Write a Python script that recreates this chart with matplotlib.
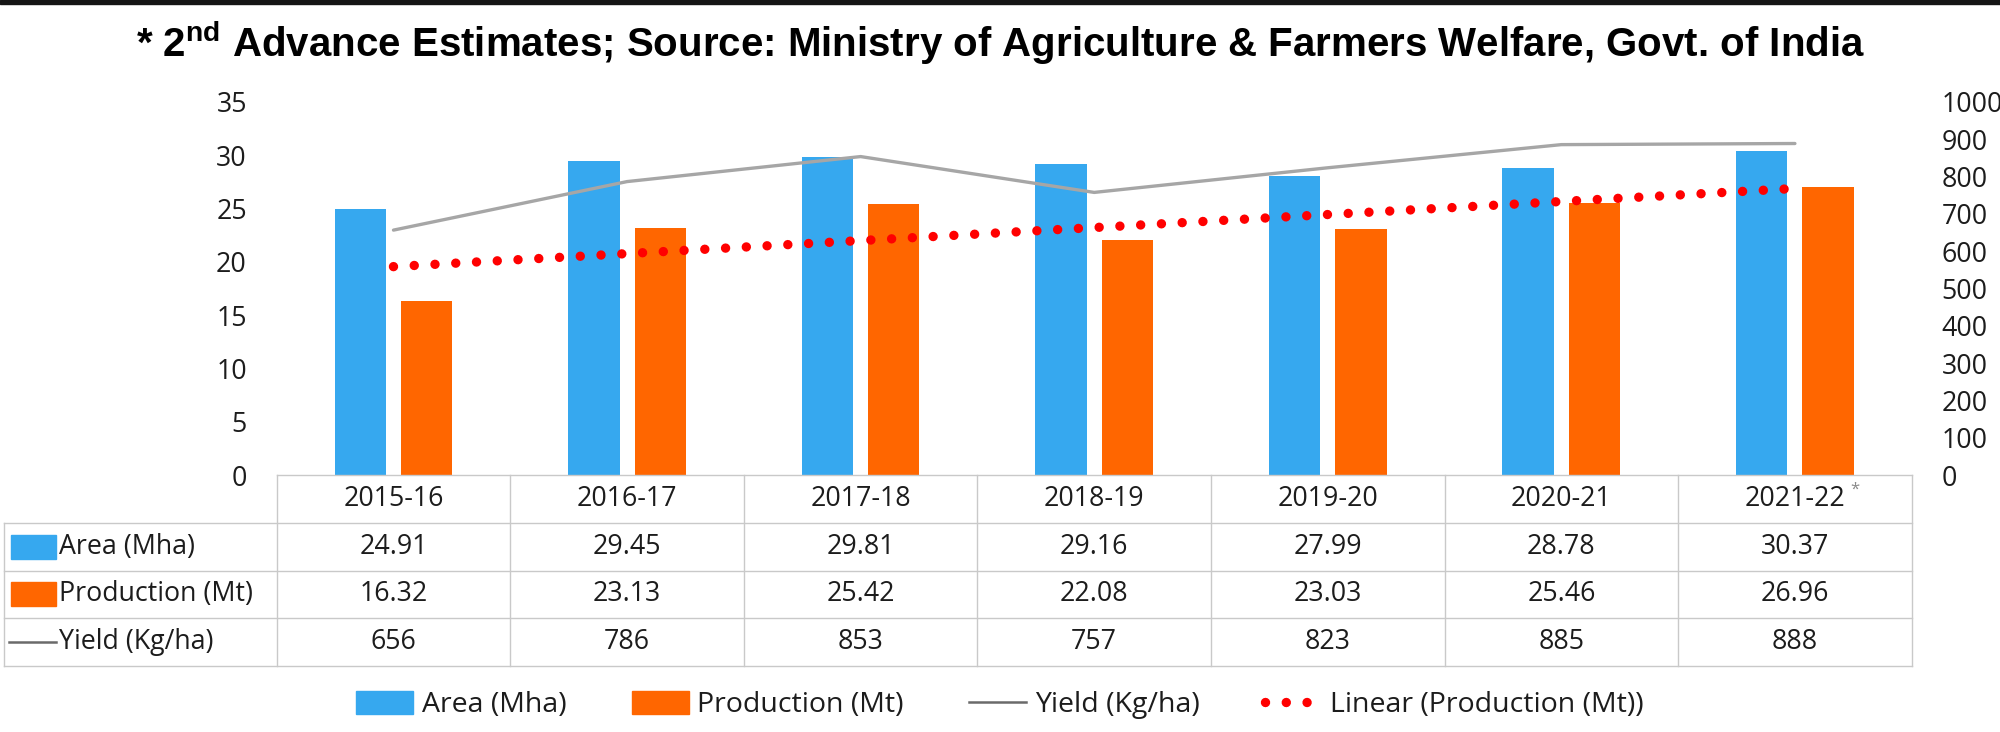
import numpy as np
import matplotlib
matplotlib.use('Agg')
import matplotlib.pyplot as plt
from matplotlib import font_manager as fm
from matplotlib.patches import Rectangle
from matplotlib.lines import Line2D

# ---------------- data ----------------
years = ['2015-16', '2016-17', '2017-18', '2018-19', '2019-20', '2020-21', '2021-22']
area = [24.91, 29.45, 29.81, 29.16, 27.99, 28.78, 30.37]
production = [16.32, 23.13, 25.42, 22.08, 23.03, 25.46, 26.96]
yield_kg = [656, 786, 853, 757, 823, 885, 888]
row_labels = ['Area (Mha)', 'Production (Mt)', 'Yield (Kg/ha)']
left_ticks = [0, 5, 10, 15, 20, 25, 30, 35]
right_ticks = [0, 100, 200, 300, 400, 500, 600, 700, 800, 900, 1000]
title = r'* 2$^{\mathrm{nd}}$ Advance Estimates; Source: Ministry of Agriculture & Farmers Welfare, Govt. of India'
legend_labels = ['Area (Mha)', 'Production (Mt)', 'Yield (Kg/ha)', 'Linear (Production (Mt))']

# ---------------- style ----------------
C_AREA = '#36a8ef'
C_PROD = '#ff6600'
C_YIELD = '#a6a6a6'
C_YIELD_KEY = '#6a6a6a'
C_TREND = '#ff0000'
C_GRID = '#c9c9c9'
C_TXT = '#1c1c1c'
FONT = 'Open Sans'
FS = 19.3
FS_LEG = 20.5

names = {f.name for f in fm.fontManager.ttflist}
title_family = 'Liberation Sans Narrow' if 'Liberation Sans Narrow' in names else 'Liberation Sans'
plt.rcParams['font.family'] = [FONT, 'DejaVu Sans']
plt.rcParams['mathtext.fontset'] = 'custom'
plt.rcParams['mathtext.rm'] = f'{title_family}:bold'
plt.rcParams['mathtext.it'] = f'{title_family}:bold'
plt.rcParams['mathtext.bf'] = f'{title_family}:bold'

W, H = 2000, 732
fig = plt.figure(figsize=(W / 100, H / 100), dpi=100)
fig.patch.set_facecolor('white')


def fx(px):
    return px / W


def fy(py):
    return 1 - py / H


x_left, x_right = 276.7, 1911.7
y_top_axis, y_zero, y_table_bottom = 101.7, 475.0, 666.0
col_w = (x_right - x_left) / 7.0

# ---------------- main chart ----------------
ax = fig.add_axes([fx(x_left), fy(y_zero), (x_right - x_left) / W, (y_zero - y_top_axis) / H])
ax2 = ax.twinx()
x = np.arange(len(years))
ax.bar(x - 0.142, area, 0.22, color=C_AREA, zorder=2)
ax.bar(x + 0.142, production, 0.22, color=C_PROD, zorder=2)
coef = np.polyfit(x, production, 1)
xt = np.array([x[0], x[-1]], dtype=float)
ax.plot(xt, np.polyval(coef, xt), color=C_TREND, lw=6.8,
        linestyle=(0, (0.001, 2.2)), dash_capstyle='round', zorder=4)
ax.set_xlim(-0.5, 6.5)
ax.set_ylim(0, 35)
ax.set_yticks(left_ticks)
ax.set_xticks([])
for s in ax.spines.values():
    s.set_visible(False)

ax2.plot(x, yield_kg, color=C_YIELD, lw=2.4, zorder=3, solid_capstyle='round')
ax2.set_ylim(0, 1000)
ax2.set_yticks(right_ticks)
ax2.set_xticks([])
for s in ax2.spines.values():
    s.set_visible(False)
ax.tick_params(axis='y', which='both', left=False, right=False, labelsize=FS,
               labelcolor=C_TXT, pad=18)
ax2.tick_params(axis='y', which='both', left=False, right=False, labelsize=FS,
                labelcolor=C_TXT, pad=18)

# ---------------- data table ----------------
tab = fig.add_axes([fx(x_left), fy(y_table_bottom), (x_right - x_left) / W,
                    (y_table_bottom - y_zero) / H])
tab.set_xlim(-0.5, 6.5)
tab.set_ylim(4, 0)
tab.axis('off')
xl = (4 - x_left) / col_w - 0.5  # left edge of label column in data units
lw_grid = 1.0
tab.plot([-0.5, 6.5], [0, 0], color=C_GRID, lw=lw_grid, clip_on=False)
for r in range(1, 5):
    tab.plot([xl, 6.5], [r, r], color=C_GRID, lw=lw_grid, clip_on=False)
for k in range(8):
    tab.plot([-0.5 + k, -0.5 + k], [0, 4], color=C_GRID, lw=lw_grid, clip_on=False)
tab.plot([xl, xl], [1, 4], color=C_GRID, lw=lw_grid, clip_on=False)

for i, yr in enumerate(years):
    tab.text(i, 0.5, yr, ha='center', va='center', fontsize=FS, color=C_TXT)
tab.text(6 + 60 / col_w, 0.3, '*', ha='center', va='center', fontsize=12, color='#8a8a8a')
rows = [[f'{v:.2f}' for v in area], [f'{v:.2f}' for v in production], [f'{v:d}' for v in yield_kg]]
for r, vals in enumerate(rows):
    for i, v in enumerate(vals):
        tab.text(i, r + 1.5, v, ha='center', va='center', fontsize=FS, color=C_TXT)

key_x0 = (11 - x_left) / col_w - 0.5
key_w = 45 / col_w
txt_x = (59 - x_left) / col_w - 0.5
key_colors = [C_AREA, C_PROD]
for r, lab in enumerate(row_labels):
    yc = r + 1.5
    if r < 2:
        tab.add_patch(Rectangle((key_x0, yc - 0.25), key_w, 0.5, color=key_colors[r], clip_on=False))
    else:
        tab.plot([(9 - x_left) / col_w - 0.5, (56 - x_left) / col_w - 0.5], [yc, yc],
                 color=C_YIELD_KEY, lw=1.8, clip_on=False)
    tab.text(txt_x, yc, lab, ha='left', va='center', fontsize=FS, color=C_TXT)

# ---------------- legend ----------------
handles = [
    Rectangle((0, 0), 1, 1, color=C_AREA),
    Rectangle((0, 0), 1, 1, color=C_PROD),
    Line2D([], [], color=C_YIELD_KEY, lw=1.8),
    Line2D([], [], color=C_TREND, lw=6.8, linestyle=(0, (0.001, 2.2)), dash_capstyle='round'),
]
fig.legend(handles, legend_labels, loc='center', bbox_to_anchor=(0.5, fy(705)), ncol=4,
           frameon=False, fontsize=FS_LEG, handlelength=2.0, handleheight=0.85,
           handletextpad=0.3, columnspacing=2.3, labelcolor=C_TXT)

# ---------------- title ----------------
t = fig.text(0.5, fy(57), title, ha='center', va='baseline', fontsize=28,
             fontweight='bold', family=title_family, color='black')
fig.canvas.draw()
bb = t.get_window_extent(fig.canvas.get_renderer())
t.set_fontsize(28 * 1730 / bb.width)

# dark rule at very top
fig.patches.append(Rectangle((0, fy(4)), 1, 4 / H, transform=fig.transFigure,
                             color='#151515', zorder=10))

fig.savefig('out.png', dpi=100, facecolor='white')
